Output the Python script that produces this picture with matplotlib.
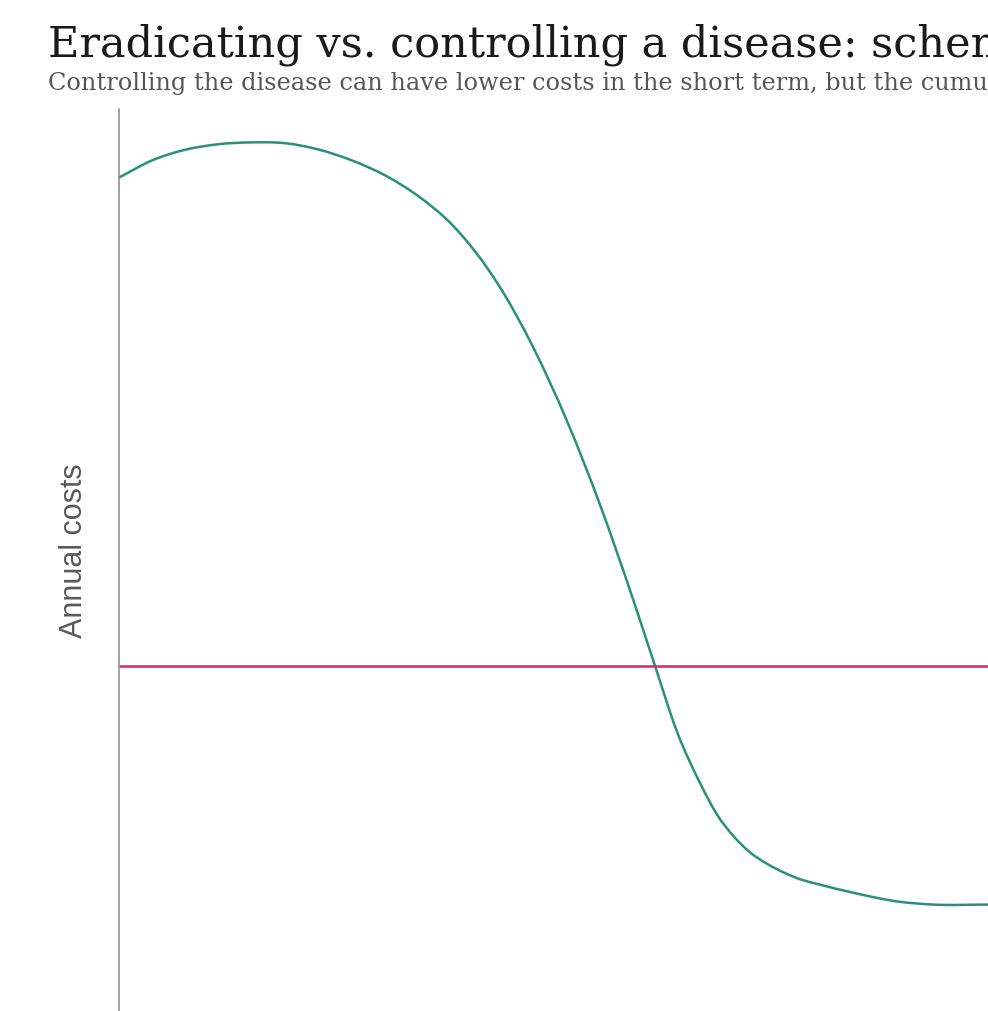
import matplotlib.pyplot as plt
import numpy as np
from matplotlib.path import Path
from matplotlib.patches import PathPatch

# Schematic values (arbitrary units)
years = np.array([0.0, 3.8, 7.7, 11.5, 15.3, 19.2, 23.0, 26.8, 30.7, 34.5,
                  38.3, 43.8, 47.6, 51.6, 55.4, 59.1, 61.7, 64.2, 66.9,
                  68.8, 70.7, 72.6, 74.6, 76.4, 78.4, 80.3, 84.1, 89.9, 93.7, 100.0])
eradication_cost = np.array([92.4, 94.3, 95.5, 96.1, 96.3, 96.2, 95.5, 94.3, 92.6, 90.3,
                             87.2, 80.3, 73.7, 65.3, 56.0, 45.8, 38.2, 31.0, 25.2,
                             21.8, 19.4, 17.6, 16.3, 15.4, 14.6, 14.1, 13.2, 12.1, 11.8, 11.8])
control_years = np.array([0.0, 100.0])
control_cost = np.array([38.2, 38.2])

title = 'Eradicating vs. controlling a disease: schematic illustration of costs over time'
subtitle = ('Controlling the disease can have lower costs in the short term, '
            'but the cumulative costs of eradication are lower in the long run.')


def smooth_path(x, y):
    # cubic Hermite in x, slopes from three-point differences, as Bezier segments
    h = np.diff(x)
    d = np.diff(y) / h
    m = np.empty_like(y)
    m[0], m[-1] = d[0], d[-1]
    m[1:-1] = (d[:-1] * h[1:] + d[1:] * h[:-1]) / (h[:-1] + h[1:])
    verts = [(x[0], y[0])]
    codes = [Path.MOVETO]
    for i in range(len(x) - 1):
        verts += [(x[i] + h[i] / 3, y[i] + m[i] * h[i] / 3),
                  (x[i + 1] - h[i] / 3, y[i + 1] - m[i + 1] * h[i] / 3),
                  (x[i + 1], y[i + 1])]
        codes += [Path.CURVE4] * 3
    return Path(verts, codes)


W, H = 988, 1012
fig = plt.figure(figsize=(W / 100, H / 100), dpi=100)

ax = fig.add_axes([119 / W, 0, (W - 119) / W, (H - 110) / H])
ax.plot(control_years, control_cost, color='#d6266b', linewidth=1.8, solid_capstyle='butt')
ax.add_patch(PathPatch(smooth_path(years, eradication_cost), facecolor='none',
                       edgecolor='#2a9076', linewidth=1.8))

ax.set_xlim(0, 100)
ax.set_ylim(0, 100)
for side in ['top', 'right', 'bottom']:
    ax.spines[side].set_visible(False)
ax.spines['left'].set_color('#888888')
ax.spines['left'].set_linewidth(1.1)
ax.set_xticks([])
ax.set_yticks([])
ax.set_ylabel('Annual costs', fontsize=22, color='#5a5a5a', family='Liberation Sans')
ax.yaxis.set_label_coords(-0.035, 0.511)

fig.text(48 / W, 1 - 57 / H, title, fontsize=31, family='DejaVu Serif',
         color='#1a1a1a', va='baseline', ha='left')
fig.text(48 / W, 1 - 90 / H, subtitle, fontsize=17.3, family='DejaVu Serif',
         color='#555555', va='baseline', ha='left')

fig.savefig('out.png', dpi=100)
